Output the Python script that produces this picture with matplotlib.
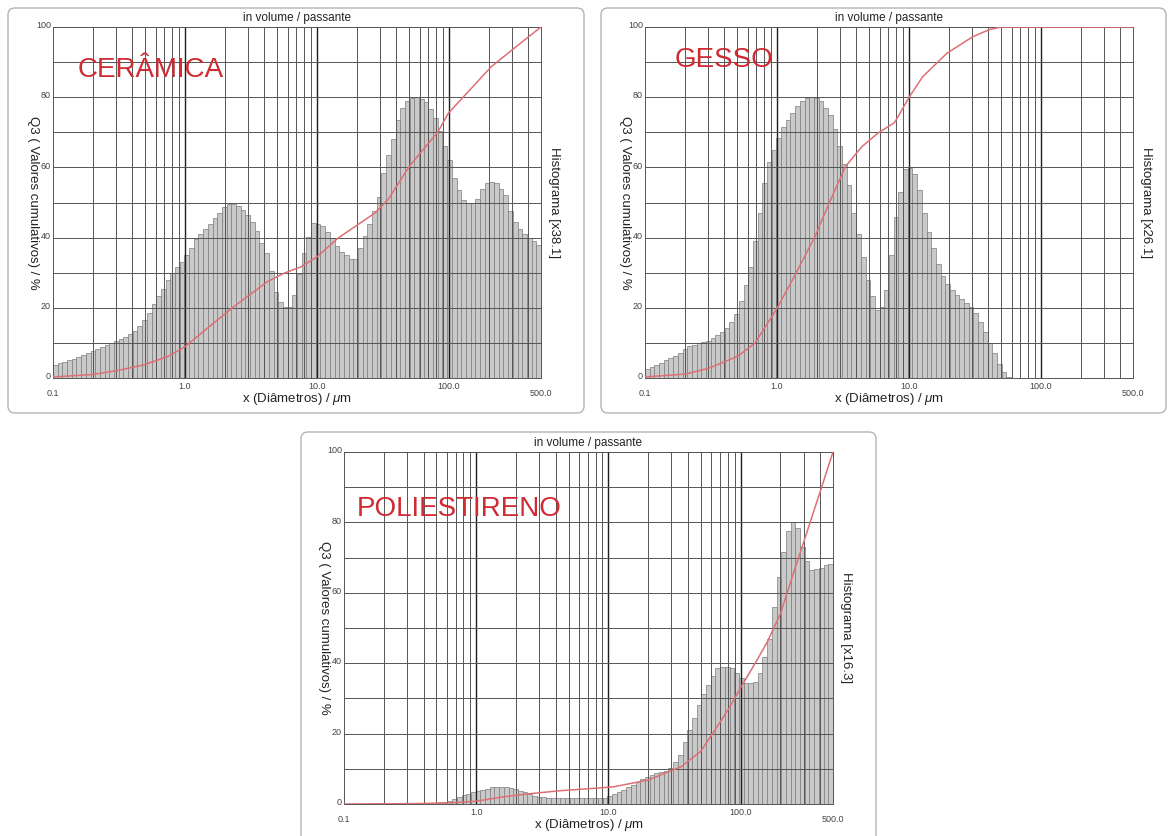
import numpy as np
import matplotlib
matplotlib.use("Agg")
import matplotlib.pyplot as plt
from matplotlib.patches import FancyBboxPatch
from matplotlib.transforms import IdentityTransform

plt.rcParams["font.family"] = ["Liberation Sans", "DejaVu Sans"]
plt.rcParams["mathtext.fontset"] = "custom"
plt.rcParams["mathtext.rm"] = "Liberation Sans"
plt.rcParams["mathtext.it"] = "Liberation Sans:italic"

W, H = 1175, 836

# ---- data ----
x_min, x_max = 0.1, 500.0
n_bins = 104

x_ticks = [0.1, 1.0, 10.0, 100.0, 500.0]
x_tick_labels = ["0.1", "1.0", "10.0", "100.0", "500.0"]
y_ticks = [0, 20, 40, 60, 80, 100]

ceramica_hist = [
    3.6, 4.2, 4.6, 5.0, 5.4, 6.1, 6.5, 7.0, 7.6, 8.2,
    8.7, 9.3, 9.9, 10.4, 11.0, 11.8, 12.5, 13.5, 14.8, 16.6,
    18.5, 21.0, 23.5, 25.3, 28.0, 30.0, 31.5, 33.0, 35.0, 37.0,
    39.5, 41.0, 42.5, 44.0, 45.5, 47.0, 48.6, 49.6, 49.6, 49.0,
    48.0, 46.5, 44.5, 42.0, 38.5, 35.5, 30.5, 24.5, 21.7, 20.2,
    20.2, 23.7, 29.5, 35.5, 40.3, 44.3, 44.0, 43.2, 41.7, 40.0,
    37.5, 36.0, 35.0, 34.0, 34.0, 37.0, 40.5, 44.0, 47.5, 51.5,
    58.5, 63.5, 68.0, 73.5, 77.0, 79.0, 79.7, 80.0, 79.5, 78.5,
    76.5, 74.0, 70.5, 66.0, 62.0, 57.0, 53.5, 50.7, 49.8, 49.8,
    51.0, 53.8, 55.5, 55.9, 55.5, 53.8, 52.0, 47.5, 44.5, 42.5,
    41.0, 40.0, 39.0, 38.0,
]
ceramica_cum_d = [0.1, 0.2, 0.306, 0.483, 0.74, 1.0, 1.48, 2.34, 4.2, 5.6,
                  7.6, 10, 14.4, 27.3, 34.5, 50, 83, 99, 210, 375, 500]
ceramica_cum_q = [0.3, 1.0, 2.1, 3.7, 6.1, 8.9, 14.2, 20.3, 27.4, 29.8,
                  31.7, 34.5, 39.8, 46.9, 50.7, 60.2, 70.2, 75.4, 88.7, 96.3, 100]

gesso_hist = [
    2.7, 3.1, 3.7, 4.3, 5.0, 5.7, 6.2, 7.2, 8.3, 9.0,
    9.5, 10.0, 10.2, 10.6, 11.4, 12.3, 13.2, 14.3, 16.0, 18.3,
    21.8, 26.5, 31.5, 39.0, 47.0, 55.5, 61.5, 65.0, 68.5, 71.5,
    73.5, 75.5, 77.5, 79.0, 79.8, 80.0, 79.8, 79.0, 77.0, 75.0,
    71.0, 66.0, 61.0, 55.0, 47.0, 41.0, 34.5, 28.0, 23.5, 19.5,
    20.2, 25.0, 35.0, 46.0, 53.0, 59.5, 59.8, 58.0, 53.5, 47.0,
    41.5, 37.0, 32.5, 29.0, 26.9, 25.0, 23.6, 22.5, 21.5, 20.3,
    18.5, 16.0, 13.0, 10.0, 7.0, 4.0, 1.8, 0.4, 0, 0,
    0, 0, 0, 0, 0, 0, 0, 0, 0, 0,
    0, 0, 0, 0, 0, 0, 0, 0, 0, 0,
    0, 0, 0, 0,
]
gesso_cum_d = [0.1, 0.2, 0.3, 0.5, 0.68, 1.0, 1.37, 1.94, 2.5, 3.3,
               4.4, 5.8, 7.8, 10.1, 12.7, 19.4, 30.4, 41, 50.5, 500]
gesso_cum_q = [0.3, 1.1, 2.7, 6.1, 9.9, 19.8, 29.3, 40.3, 50.0, 60.2,
               65.9, 69.7, 72.8, 80.1, 85.8, 92.5, 97.2, 99.3, 100, 100]

poli_hist = [
    0.1, 0.1, 0.1, 0.1, 0.1, 0.1, 0.1, 0.1, 0.1, 0.1,
    0.1, 0.1, 0.1, 0.1, 0.2, 0.2, 0.2, 0.2, 0.3, 0.4,
    0.5, 0.6, 0.9, 1.3, 1.9, 2.5, 2.9, 3.3, 3.7, 4.0,
    4.4, 4.7, 4.9, 4.9, 4.8, 4.5, 4.2, 3.8, 3.3, 2.8,
    2.4, 2.0, 1.9, 1.8, 1.8, 1.8, 1.8, 1.7, 1.7, 1.7,
    1.6, 1.6, 1.6, 1.6, 1.7, 1.8, 2.2, 2.7, 3.5, 4.1,
    4.7, 5.4, 6.2, 7.1, 7.8, 8.2, 8.7, 9.1, 9.5, 10.2,
    11.8, 14.0, 17.5, 21.0, 24.5, 28.0, 31.2, 33.8, 36.4, 38.5,
    39.0, 39.0, 38.6, 37.2, 35.9, 34.5, 34.3, 34.8, 37.1, 41.9,
    47.0, 56.0, 64.5, 71.5, 77.5, 80.2, 78.5, 73.0, 69.0, 66.5,
    66.8, 67.0, 67.8, 68.2,
]
poli_cum_d = [0.1, 0.32, 0.64, 1.0, 1.58, 2.5, 4.4, 8.1, 11, 20, 35.5,
              50, 63, 81, 100, 129, 159, 200, 258, 306, 415, 500]
poli_cum_q = [0, 0.1, 0.3, 0.8, 2.0, 2.9, 3.8, 4.5, 4.9, 6.8, 10.6,
              15, 20.6, 27, 33, 40, 46, 54, 67, 75.4, 90.6, 100]

RED = "#cf2b33"
CURVE = "#de6f74"
GRID = "#555555"


def draw_panel(fig, frame, box, name, name_xy, hist, cum_d, cum_q, factor):
    # frame: (x0, y0, x1, y1) image pixels; box: axes (left, top, right, bottom)
    fx0, fy0, fx1, fy1 = frame
    fig.add_artist(FancyBboxPatch(
        (fx0, H - fy1), fx1 - fx0, fy1 - fy0,
        boxstyle="round,pad=0,rounding_size=7", transform=IdentityTransform(),
        ec="#b4b4b4", fc="none", lw=1.0))

    l, t, r, b = box
    ax = fig.add_axes([l / W, 1 - b / H, (r - l) / W, (b - t) / H])
    edges = np.logspace(np.log10(x_min), np.log10(x_max), n_bins + 1)
    ax.bar(edges[:-1], hist, width=np.diff(edges), align="edge",
           color="#c9c9c9", edgecolor="#7c7c7c", lw=0.5, zorder=1)
    ax.plot(cum_d, cum_q, color=CURVE, lw=1.1, zorder=4)

    ax.set_xscale("log")
    ax.set_xlim(x_min, x_max)
    ax.set_ylim(0, 100)
    ax.set_xticks([1, 10, 100])
    minors = [m * 10.0 ** e for e in (-1, 0, 1) for m in range(2, 10)] + [200, 300, 400]
    ax.set_xticks(minors, minor=True)
    ax.set_yticks(range(0, 101, 10))
    ax.tick_params(which="both", length=0, labelbottom=False, labelleft=False)
    ax.grid(True, which="major", axis="x", color="#1e1e1e", lw=1.0)
    ax.grid(True, which="minor", axis="x", color=GRID, lw=0.7)
    ax.grid(True, which="major", axis="y", color=GRID, lw=0.7)
    ax.set_axisbelow(False)
    for s in ax.spines.values():
        s.set_color(GRID)
        s.set_linewidth(0.7)

    for v, lab in zip(x_ticks, x_tick_labels):
        dy = -11.5 if lab in ("0.1", "500.0") else -5.8
        ax.annotate(lab, xy=(v, 0), xycoords=("data", "axes fraction"),
                    xytext=(0, dy), textcoords="offset points",
                    ha="center", va="center", fontsize=6.5, color="#444444")
    for v in y_ticks:
        ax.annotate(str(v), xy=(0, v), xycoords=("axes fraction", "data"),
                    xytext=(-1.5, 1), textcoords="offset points",
                    ha="right", va="center", fontsize=6.5, color="#444444")

    cx = (l + r) / 2
    fig.text(cx / W, 1 - (t - 9) / H, "in volume / passante",
             ha="center", va="center", fontsize=8.5, color="#222222")
    fig.text(cx / W, 1 - (b + 21) / H, r"x (Diâmetros) / $\mathit{\mu}$m",
             ha="center", va="center", fontsize=9.5, color="#222222")
    cy = (t + b) / 2
    fig.text((l - 20) / W, 1 - cy / H, "Q3 ( Valores cumulativos) / %",
             rotation=270, ha="center", va="center", fontsize=9.5, color="#222222")
    fig.text((r + 13) / W, 1 - cy / H, "Histograma [x%s]" % factor,
             rotation=270, ha="center", va="center", fontsize=9.5, color="#222222")
    fig.text(name_xy[0] / W, 1 - name_xy[1] / H, name, ha="left",
             va="baseline", fontsize=20, color=RED)
    return ax


fig = plt.figure(figsize=(W / 100, H / 100), dpi=100)

draw_panel(fig, (8, 8, 584, 413), (53, 27, 541, 378), "CERÂMICA", (78, 77),
           ceramica_hist, ceramica_cum_d, ceramica_cum_q, "38.1")
draw_panel(fig, (601, 8, 1166, 413), (645, 27, 1133, 378), "GESSO", (675, 67),
           gesso_hist, gesso_cum_d, gesso_cum_q, "26.1")
draw_panel(fig, (301, 432, 876, 846), (344, 452, 833, 804), "POLIESTIRENO", (357, 516),
           poli_hist, poli_cum_d, poli_cum_q, "16.3")

fig.savefig("out.png", dpi=100)
